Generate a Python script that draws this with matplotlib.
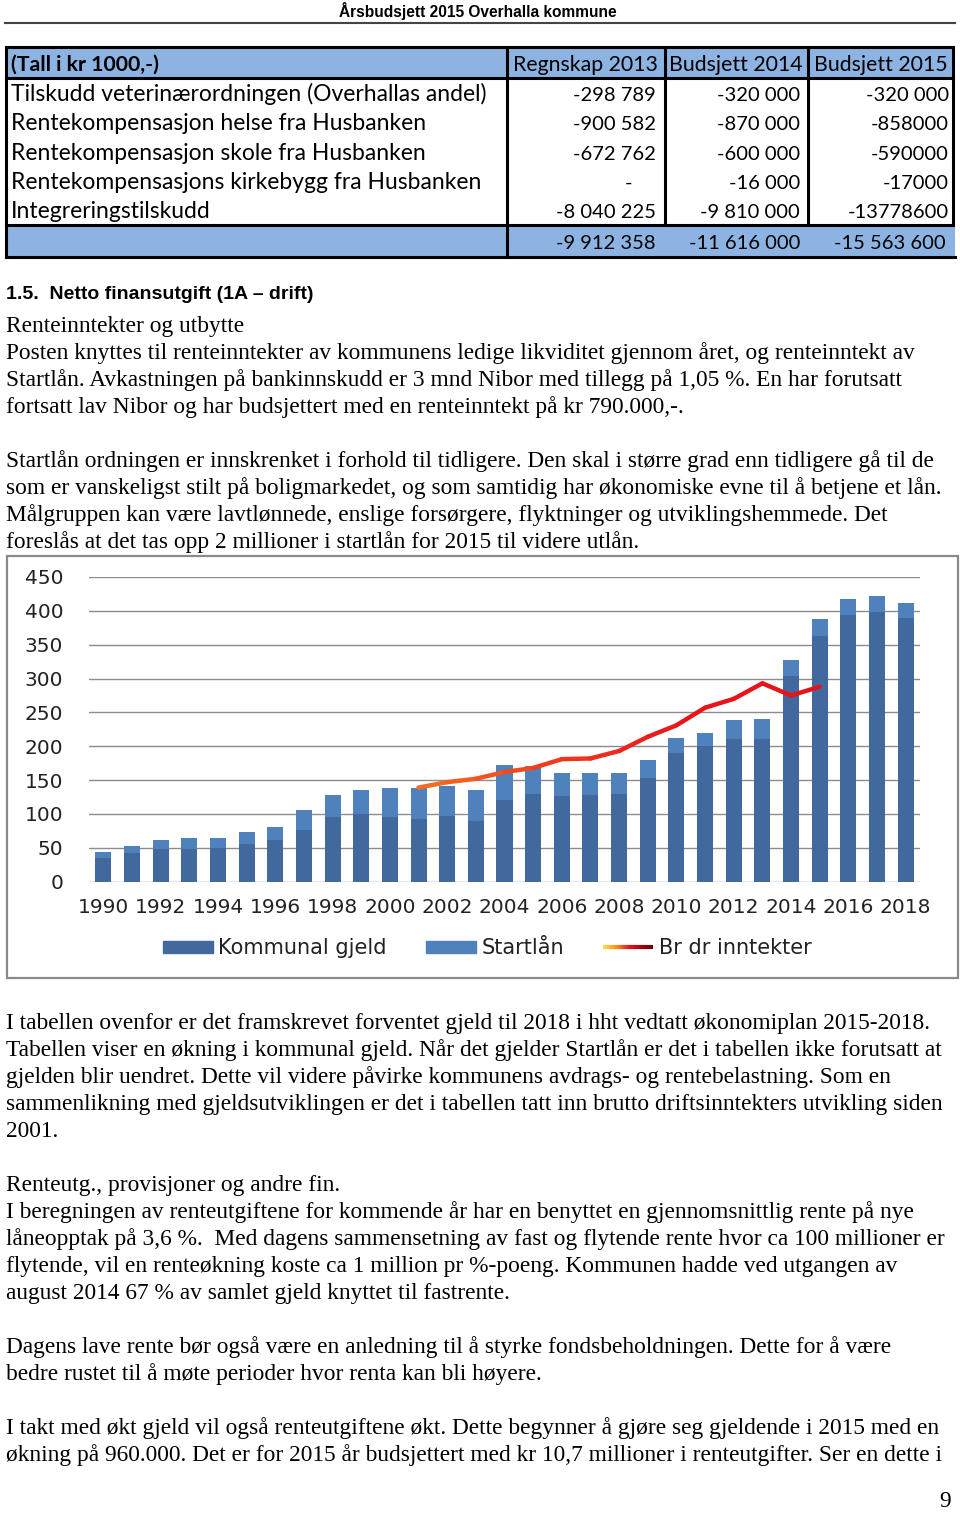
import numpy as np
import matplotlib
matplotlib.use('Agg')
import matplotlib.pyplot as plt
from matplotlib.collections import LineCollection
from matplotlib.colors import LinearSegmentedColormap
from matplotlib.patches import Rectangle, Patch
from matplotlib.legend_handler import HandlerBase

# --- table data ---
tab_head = ['(Tall i kr 1000,-)', 'Regnskap 2013', 'Budsjett 2014', 'Budsjett 2015']
tab_rows = ['Tilskudd veterinærordningen (Overhallas andel)',
            'Rentekompensasjon helse fra Husbanken',
            'Rentekompensasjon skole fra Husbanken',
            'Rentekompensasjons kirkebygg fra Husbanken',
            'Integreringstilskudd']
col_2013 = ['-298 789', '-900 582', '-672 762', '-', '-8 040 225']
col_2014 = ['-320 000', '-870 000', '-600 000', '-16 000', '-9 810 000']
col_2015 = ['-320 000', '-858000', '-590000', '-17000', '-13778600']
tab_sum = ['-9 912 358', '-11 616 000', '-15 563 600']

# --- chart data (mill kr) ---
years = list(range(1990, 2019))
kommunal_gjeld = [35, 42, 49, 49, 50, 56, 61, 76, 96, 100, 96, 92, 97, 89, 120,
                  130, 126, 128, 129, 153, 190, 200, 211, 211, 304, 363, 394, 398, 390]
startlaan = [9, 11, 13, 15, 15, 18, 20, 30, 32, 36, 43, 46, 45, 47, 52,
             41, 35, 33, 31, 26, 22, 19, 28, 30, 24, 25, 23, 24, 22]
inntekt_years = list(range(2001, 2016))
br_dr_inntekter = [139, 147, 152, 162, 168, 181, 182, 193, 214, 231, 257, 270, 293, 275, 288]

para1 = ['Renteinntekter og utbytte',
         'Posten knyttes til renteinntekter av kommunens ledige likviditet gjennom året, og renteinntekt av',
         'Startlån. Avkastningen på bankinnskudd er 3 mnd Nibor med tillegg på 1,05 %. En har forutsatt',
         'fortsatt lav Nibor og har budsjettert med en renteinntekt på kr 790.000,-.',
         '',
         'Startlån ordningen er innskrenket i forhold til tidligere. Den skal i større grad enn tidligere gå til de',
         'som er vanskeligst stilt på boligmarkedet, og som samtidig har økonomiske evne til å betjene et lån.',
         'Målgruppen kan være lavtlønnede, enslige forsørgere, flyktninger og utviklingshemmede. Det',
         'foreslås at det tas opp 2 millioner i startlån for 2015 til videre utlån.']
para2 = ['I tabellen ovenfor er det framskrevet forventet gjeld til 2018 i hht vedtatt økonomiplan 2015-2018.',
         'Tabellen viser en økning i kommunal gjeld. Når det gjelder Startlån er det i tabellen ikke forutsatt at',
         'gjelden blir uendret. Dette vil videre påvirke kommunens avdrags- og rentebelastning. Som en',
         'sammenlikning med gjeldsutviklingen er det i tabellen tatt inn brutto driftsinntekters utvikling siden',
         '2001.',
         '',
         'Renteutg., provisjoner og andre fin.',
         'I beregningen av renteutgiftene for kommende år har en benyttet en gjennomsnittlig rente på nye',
         'låneopptak på 3,6 %.  Med dagens sammensetning av fast og flytende rente hvor ca 100 millioner er',
         'flytende, vil en renteøkning koste ca 1 million pr %-poeng. Kommunen hadde ved utgangen av',
         'august 2014 67 % av samlet gjeld knyttet til fastrente.',
         '',
         'Dagens lave rente bør også være en anledning til å styrke fondsbeholdningen. Dette for å være',
         'bedre rustet til å møte perioder hvor renta kan bli høyere.',
         '',
         'I takt med økt gjeld vil også renteutgiftene økt. Dette begynner å gjøre seg gjeldende i 2015 med en',
         'økning på 960.000. Det er for 2015 år budsjettert med kr 10,7 millioner i renteutgifter. Ser en dette i']

W, H = 960, 1513
fig = plt.figure(figsize=(W / 100, H / 100), dpi=100)
pg = fig.add_axes([0, 0, 1, 1])
pg.set_xlim(0, W)
pg.set_ylim(H, 0)
pg.axis('off')

serif = 'Liberation Serif'
tabfont = 'Lato'
blue_fill = '#8db3e2'

# page header
pg.text(478, 17, 'Årsbudsjett 2015 Overhalla kommune', ha='center', va='baseline',
        family=['Liberation Sans Narrow', 'Liberation Sans'], weight='bold', fontsize=11.2)
pg.plot([5, 955], [22.5, 22.5], color='#444444', lw=1.5)

# table
pg.add_patch(Rectangle((6, 47), 947, 31, facecolor=blue_fill, edgecolor='none'))
pg.add_patch(Rectangle((6, 226), 949, 31, facecolor=blue_fill, edgecolor='none'))
lw_t = 2.2
pg.plot([6, 953], [47, 47], color='black', lw=lw_t)
pg.plot([6, 953], [78, 78], color='black', lw=lw_t)
pg.plot([6, 953], [225, 225], color='black', lw=lw_t)
pg.plot([6, 955], [257, 257], color='black', lw=lw_t)
pg.plot([6, 6], [47, 257], color='black', lw=lw_t)
pg.plot([507, 507], [47, 257], color='black', lw=lw_t)
for xc in [665, 808, 953]:
    pg.plot([xc, xc], [47, 225], color='black', lw=lw_t)

nfs = 14.5   # numbers
rfs = 16.5   # row names
hfs = 15.3   # header
pg.text(11, 71, tab_head[0], ha='left', va='baseline', family=tabfont, weight='bold', fontsize=hfs)
for xc, t in zip([585, 736, 881], tab_head[1:]):
    pg.text(xc, 71, t, ha='center', va='baseline', family=tabfont, fontsize=hfs)
row_base = [101, 130, 160, 189, 218]
for i, name in enumerate(tab_rows):
    yb = row_base[i]
    pg.text(11, yb, name, ha='left', va='baseline', family=tabfont, fontsize=rfs)
    pg.text(656 if col_2013[i] != '-' else 628, yb, col_2013[i],
            ha='right' if col_2013[i] != '-' else 'center', va='baseline', family=tabfont, fontsize=nfs)
    pg.text(800, yb, col_2014[i], ha='right', va='baseline', family=tabfont, fontsize=nfs)
    pg.text(949, yb, col_2015[i], ha='right', va='baseline', family=tabfont, fontsize=nfs)
for xr, t in zip([656, 800, 946], tab_sum):
    pg.text(xr, 249, t, ha='right', va='baseline', family=tabfont, fontsize=nfs)

# section title
pg.text(6, 299, '1.5.  Netto finansutgift (1A – drift)', ha='left', va='baseline',
        family='Liberation Sans', weight='bold', fontsize=14)

sfs = 16.8
for i, line in enumerate(para1):
    pg.text(6, 332 + i * 27, line, ha='left', va='baseline', family=serif, fontsize=sfs)
for i, line in enumerate(para2):
    pg.text(6, 1029 + i * 27, line, ha='left', va='baseline', family=serif, fontsize=sfs)
pg.text(951, 1507, '9', ha='right', va='baseline', family=serif, fontsize=sfs)

# chart frame
pg.add_patch(Rectangle((7, 556), 951, 422, facecolor='white', edgecolor='#8a8a8a', lw=1.6))

# chart axes
x0, x1, y0, y1 = 89, 920, 577, 881.7
ax = fig.add_axes([x0 / W, 1 - y1 / H, (x1 - x0) / W, (y1 - y0) / H])
ax.set_facecolor('none')
dark = '#41699e'
light = '#4f81bd'
ax.bar(years, kommunal_gjeld, width=0.56, color=dark, zorder=3, label='Kommunal gjeld')
ax.bar(years, startlaan, width=0.56, bottom=kommunal_gjeld, color=light, zorder=3, label='Startlån')

cmap = LinearSegmentedColormap.from_list('rd', ['#f36a21', '#ef3a1f', '#e8161b', '#e5141b'])
pts = np.array([inntekt_years, br_dr_inntekter], dtype=float).T.reshape(-1, 1, 2)
segs = np.concatenate([pts[:-1], pts[1:]], axis=1)
lc = LineCollection(segs, cmap=cmap, linewidth=3.2, zorder=4, capstyle='round', joinstyle='round')
lc.set_array(np.linspace(0, 1, len(segs)))
ax.add_collection(lc)

ax.set_xlim(1989.5, 2018.5)
ax.set_ylim(0, 450)
ax.set_yticks(range(0, 451, 50))
ax.set_xticks(range(1990, 2019, 2))
ax.yaxis.grid(True, color='#8c8c8c', lw=1.0, zorder=0)
for s in ax.spines.values():
    s.set_visible(False)
ax.tick_params(length=0)
ax.tick_params(axis='y', pad=18.5, labelsize=14.5, labelcolor='#222222')
ax.tick_params(axis='x', pad=12, labelsize=14.5, labelcolor='#222222')
for lab in ax.get_xticklabels() + ax.get_yticklabels():
    lab.set_family('DejaVu Sans')


class GradHandler(HandlerBase):
    def create_artists(self, legend, orig_handle, xdescent, ydescent, width, height, fontsize, trans):
        xs = np.linspace(-xdescent, width - xdescent, 30)
        ys = np.full_like(xs, height / 2 - ydescent)
        p = np.array([xs, ys]).T.reshape(-1, 1, 2)
        sg = np.concatenate([p[:-1], p[1:]], axis=1)
        gl = LineCollection(sg, cmap=LinearSegmentedColormap.from_list(
            'lg', ['#ffd84a', '#f7931e', '#e8161b', '#b00010', '#600008']), transform=trans, linewidth=3)
        gl.set_array(np.linspace(0, 1, len(sg)))
        return [gl]


handles = [Patch(color=dark), Patch(color=light), lc]
fig.legend(handles, ['Kommunal gjeld', 'Startlån', 'Br dr inntekter'],
           handler_map={LineCollection: GradHandler()},
           loc='center', bbox_to_anchor=(487 / W, 1 - 948 / H), ncol=3, frameon=False,
           prop={'family': 'DejaVu Sans', 'size': 15}, handlelength=2.4, handleheight=0.5,
           handletextpad=0.25, columnspacing=1.9, labelcolor='#222222')

fig.savefig('out.png', dpi=100)
